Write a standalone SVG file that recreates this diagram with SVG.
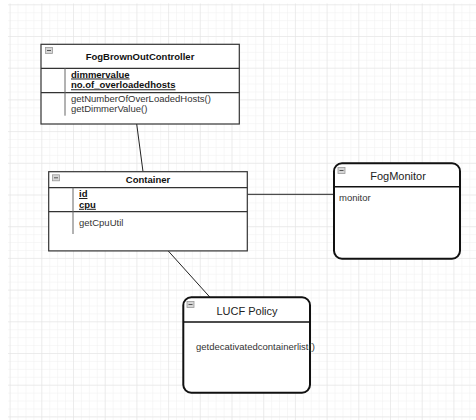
<svg xmlns="http://www.w3.org/2000/svg" width="476" height="420" viewBox="0 0 476 420">
<defs>
<pattern id="minor" patternUnits="userSpaceOnUse" x="9.6" y="4.3" width="7.925" height="7.925">
<path d="M0 0H7.925M0 0V7.925" fill="none" stroke="#f0f0f0" stroke-width="1"/>
</pattern>
<pattern id="major" patternUnits="userSpaceOnUse" x="9.6" y="4.3" width="31.7" height="31.7">
<path d="M0 0H31.7M0 0V31.7" fill="none" stroke="#e2e2e2" stroke-width="1"/>
</pattern>
<g id="icon">
<rect x="0" y="0" width="7" height="6" fill="#d6d6d6" stroke="#9a9a9a" stroke-width="0.8"/>
<line x1="1.5" y1="3" x2="5.5" y2="3" stroke="#555" stroke-width="1"/>
</g>
</defs>
<style>
text{font-family:"Liberation Sans",Arial,sans-serif;font-size:9.5px;fill:#333}
.title{font-weight:bold;fill:#111;text-anchor:middle}
.attr{font-weight:bold;fill:#111;text-decoration:underline}
.big{font-size:11px;fill:#222;text-anchor:middle}
.box{fill:#fff;stroke:#333;stroke-width:1.2}
.sep{stroke:#333;stroke-width:1.2;fill:none}
.inner{stroke:#666;stroke-width:1;fill:none}
.rbox{fill:#fff;stroke:#111;stroke-width:2}
.edge{stroke:#222;stroke-width:1;fill:none}
</style>
<rect width="476" height="420" fill="#fff"/>
<rect x="8" y="3.5" width="468" height="416.5" fill="url(#minor)"/>
<rect x="8" y="3.5" width="468" height="416.5" fill="url(#major)"/>

<g id="connectors">
<line class="edge" x1="136.7" y1="124" x2="143" y2="171.7"/>
<line class="edge" x1="247.3" y1="194.3" x2="334" y2="194.3"/>
<line class="edge" x1="168.3" y1="251" x2="210" y2="297.3"/>
</g>

<g id="FogBrownOutController">
<rect class="box" x="41" y="44.3" width="198.3" height="79.7"/>
<line class="sep" x1="41" y1="68.3" x2="239.3" y2="68.3"/>
<line class="sep" x1="41" y1="92.7" x2="239.3" y2="92.7"/>
<line class="inner" x1="65" y1="68.3" x2="65" y2="115.7"/>
<use href="#icon" x="45.5" y="47.5"/>
<text class="title" x="140" y="60">FogBrownOutController</text>
<text class="attr" x="71" y="77.5">dimmervalue</text>
<text class="attr" x="71" y="88.3">no.of_overloadedhosts</text>
<text x="71" y="101.7">getNumberOfOverLoadedHosts()</text>
<text x="71" y="112.3">getDimmerValue()</text>
</g>

<g id="Container">
<rect class="box" x="48.7" y="171.7" width="198.6" height="79.2"/>
<line class="sep" x1="48.7" y1="187.7" x2="247.3" y2="187.7"/>
<line class="sep" x1="48.7" y1="211.7" x2="247.3" y2="211.7"/>
<line class="inner" x1="73" y1="187.7" x2="73" y2="234"/>
<use href="#icon" x="52.5" y="174.8"/>
<text class="title" x="148" y="182.6">Container</text>
<text class="attr" x="79" y="197">id</text>
<text class="attr" x="79" y="207.8">cpu</text>
<text x="79" y="225.5">getCpuUtil</text>
</g>

<g id="FogMonitor">
<rect class="rbox" x="334" y="163.3" width="126" height="95.4" rx="8" ry="8"/>
<line class="sep" x1="334" y1="186.7" x2="460" y2="186.7" style="stroke:#111;stroke-width:1.5"/>
<use href="#icon" x="338" y="167.5"/>
<text class="big" x="398" y="179.5">FogMonitor</text>
<text x="339" y="200.8">monitor</text>
</g>

<g id="LUCFPolicy">
<rect class="rbox" x="183.3" y="297.3" width="126.7" height="95.4" rx="8" ry="8"/>
<line class="sep" x1="183.3" y1="322" x2="310" y2="322" style="stroke:#111;stroke-width:1.5"/>
<use href="#icon" x="187" y="301.5"/>
<text class="big" x="247" y="315.2">LUCF Policy</text>
<text x="196" y="349.5">getdecativatedcontainerlist()</text>
</g>
</svg>
